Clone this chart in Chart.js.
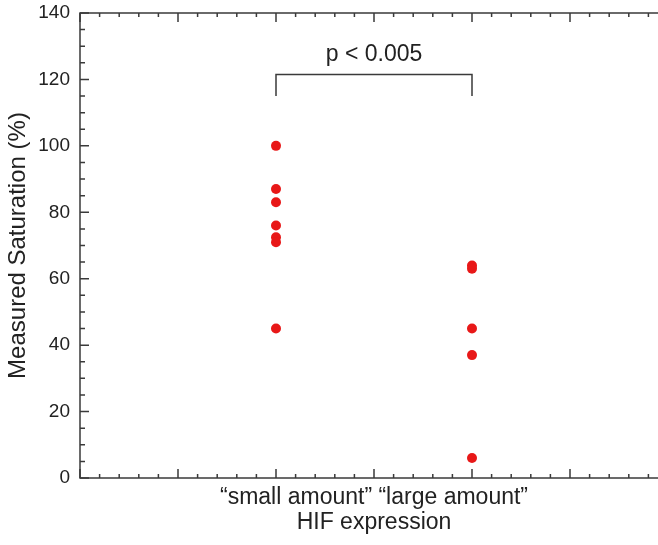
<html>
<head>
   <style>
   body{
      margin: 0;
      background: #fff;
   }
   .plot-wrapper{
      width: 658px;
      height: 545px;
      overflow: hidden;
   }
   </style>
</head>

<body>
   <div class="plot-wrapper">
      <canvas id="saturation" width="690" height="545"></canvas>
   </div>
</body>

<script src="https://cdn.jsdelivr.net/npm/chart.js@4.4.0/dist/chart.umd.min.js"></script>

<script>
// Group positions on the x axis and the measured values
var groupX = [2, 4];
var smallAmount = [100, 87, 83, 76, 72.5, 71, 45];
var largeAmount = [64, 63, 45, 37, 6];
var groupLabels = ['\u201csmall amount\u201d \u201clarge amount\u201d', 'HIF expression'];

// Significance bracket
var bracketTop = 121.5;
var bracketFoot = 115;
var pText = 'p < 0.005';

var axisColor = '#3a3a3a';
var fontFamily = '"Liberation Sans", Arial, sans-serif';

function toPoints(x, values) {
   return values.map(function (v) { return {x: x, y: v}; });
}

// Frame around the plot with inward ticks on every side
var framePlugin = {
   id: 'frame',
   afterDraw: function (chart) {
      var ctx = chart.ctx;
      var a = chart.chartArea;
      var xs = chart.scales.x;
      var ys = chart.scales.y;
      ctx.save();
      ctx.strokeStyle = axisColor;
      ctx.lineWidth = 1.5;
      ctx.strokeRect(a.left, a.top, a.right - a.left, a.bottom - a.top);

      ctx.beginPath();
      for (var i = 0; i <= 140; i += 5) {
         var py = ys.getPixelForValue(i);
         var len = (i % 20 === 0) ? 9 : 5;
         ctx.moveTo(a.left, py);
         ctx.lineTo(a.left + len, py);
         ctx.moveTo(a.right, py);
         ctx.lineTo(a.right - len, py);
      }
      for (var j = 0; j <= 30; j++) {
         var px = xs.getPixelForValue(j / 5);
         var l2 = (j % 5 === 0) ? 9 : 4;
         ctx.moveTo(px, a.bottom);
         ctx.lineTo(px, a.bottom - l2);
         ctx.moveTo(px, a.top);
         ctx.lineTo(px, a.top + l2);
      }
      ctx.stroke();

      // bracket between the two groups
      var x1 = xs.getPixelForValue(groupX[0]);
      var x2 = xs.getPixelForValue(groupX[1]);
      var yt = ys.getPixelForValue(bracketTop);
      var yf = ys.getPixelForValue(bracketFoot);
      ctx.beginPath();
      ctx.moveTo(x1, yf);
      ctx.lineTo(x1, yt);
      ctx.lineTo(x2, yt);
      ctx.lineTo(x2, yf);
      ctx.stroke();

      ctx.fillStyle = '#222';
      ctx.font = '23px ' + fontFamily;
      ctx.textAlign = 'center';
      ctx.textBaseline = 'middle';
      ctx.fillText(pText, (x1 + x2) / 2, yt - 20);
      ctx.restore();
   }
};

var context = document.getElementById('saturation').getContext('2d');
var myChart = new Chart(context, {
   type: 'scatter',
   data: {
      datasets: [
         {
            data: toPoints(groupX[0], smallAmount),
            backgroundColor: '#e81818',
            borderColor: '#e81818',
            pointRadius: 5,
            pointBorderWidth: 0
         },
         {
            data: toPoints(groupX[1], largeAmount),
            backgroundColor: '#e81818',
            borderColor: '#e81818',
            pointRadius: 5,
            pointBorderWidth: 0
         }
      ]
   },
   options: {
      responsive: false,
      animation: false,
      layout: {
         padding: {top: 13, right: 22, bottom: 0, left: 0}
      },
      plugins: {
         legend: {display: false},
         tooltip: {enabled: false}
      },
      scales: {
         x: {
            type: 'linear',
            min: 0,
            max: 6,
            grid: {display: false},
            border: {display: false},
            ticks: {display: false},
            title: {
               display: true,
               text: groupLabels,
               color: '#222',
               font: {family: fontFamily, size: 23, lineHeight: 1.087},
               padding: {top: 0, bottom: 10}
            },
            afterFit: function (scale) {
               scale.height = 67;
               scale.paddingLeft = 0;
               scale.paddingRight = 0;
            }
         },
         y: {
            min: 0,
            max: 140,
            grid: {display: false, drawTicks: false},
            border: {display: false},
            ticks: {
               stepSize: 20,
               color: '#222',
               padding: 10,
               font: {family: fontFamily, size: 19}
            },
            title: {
               display: true,
               text: 'Measured Saturation (%)',
               color: '#222',
               font: {family: fontFamily, size: 24, lineHeight: 1.2},
               padding: {top: 4, bottom: 0}
            },
            afterFit: function (scale) {
               scale.width = 80;
               scale.paddingTop = 0;
               scale.paddingBottom = 0;
            }
         }
      }
   },
   plugins: [framePlugin]
});
</script>
</html>
